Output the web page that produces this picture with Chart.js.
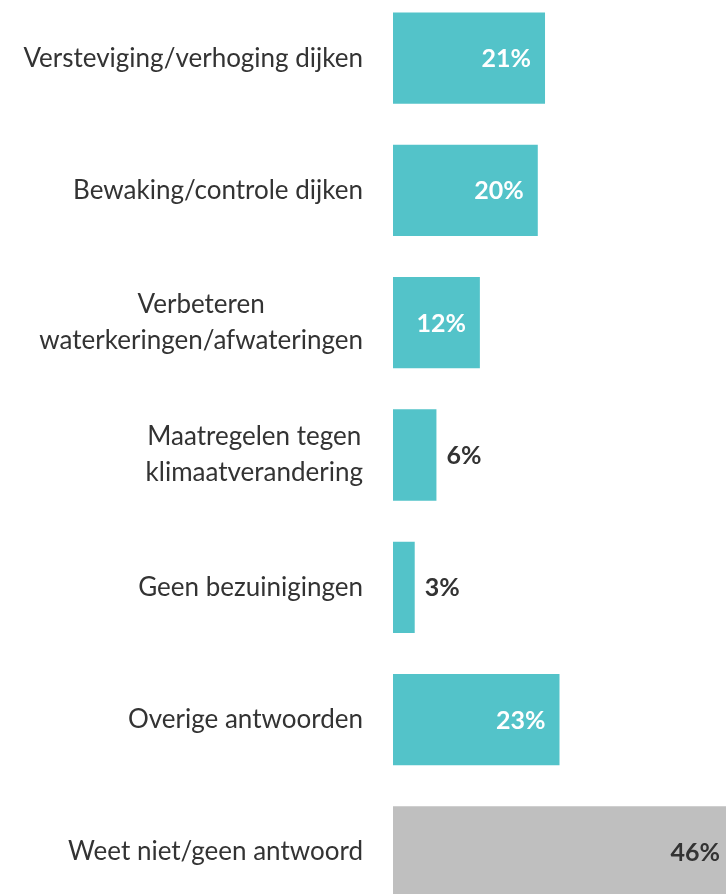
<!DOCTYPE html>
<html>
<head>
<meta charset="utf-8">
<script src="https://cdn.jsdelivr.net/npm/chart.js@4"></script>
<style>
  html, body { margin: 0; padding: 0; background: #fff; overflow: hidden; }
  #wrap { position: absolute; left: 0; top: -8px; width: 726px; height: 926px; }
</style>
</head>
<body>
<div id="wrap"><canvas id="maatregelenChart"></canvas></div>
<script>
const categories = [
  ["Versteviging/verhoging dijken"],
  ["Bewaking/controle dijken"],
  ["Verbeteren", "waterkeringen/afwateringen"],
  ["Maatregelen tegen", "klimaatverandering"],
  ["Geen bezuinigingen"],
  ["Overige antwoorden"],
  ["Weet niet/geen antwoord"]
];
const values = [21, 20, 12, 6, 3, 23, 46];

const TEAL = "#53c3c9";
const GREY = "#bfbfbf";
const TEXT = "#333333";
const FONT = "Lato, 'Open Sans', sans-serif";

// category names, right aligned next to the axis; wrapped lines centred on each other
const categoryLabels = {
  id: "categoryLabels",
  afterDraw(chart) {
    const ctx = chart.ctx;
    const yScale = chart.scales.y;
    const right = yScale.right - 30;
    const lineHeight = 36;
    ctx.save();
    ctx.font = "26px " + FONT;
    ctx.fillStyle = TEXT;
    ctx.textAlign = "center";
    ctx.textBaseline = "middle";
    categories.forEach((lines, i) => {
      const y = yScale.getPixelForValue(i);
      const w = Math.max(...lines.map(l => ctx.measureText(l).width));
      const cx = right - w / 2;
      const y0 = y - (lines.length - 1) * lineHeight / 2;
      lines.forEach((l, j) => ctx.fillText(l, cx, y0 + j * lineHeight));
    });
    ctx.restore();
  }
};

// percentage labels at the end of each bar
const valueLabels = {
  id: "valueLabels",
  afterDatasetsDraw(chart) {
    const ctx = chart.ctx;
    const meta = chart.getDatasetMeta(0);
    ctx.save();
    ctx.font = "bold 25px " + FONT;
    ctx.textBaseline = "middle";
    meta.data.forEach((bar, i) => {
      const v = values[i];
      const txt = v + "%";
      if (v >= 10) {
        ctx.textAlign = "right";
        ctx.fillStyle = i === values.length - 1 ? TEXT : "#ffffff";
        ctx.fillText(txt, bar.x - (i === values.length - 1 ? 6 : 14), bar.y + 1);
      } else {
        ctx.textAlign = "left";
        ctx.fillStyle = TEXT;
        ctx.fillText(txt, bar.x + 10, bar.y + 1);
      }
    });
    ctx.restore();
  }
};

new Chart(document.getElementById("maatregelenChart"), {
  type: "bar",
  data: {
    labels: categories.map(c => c.join(" ")),
    datasets: [{
      data: values,
      backgroundColor: ctx => ctx.dataIndex === values.length - 1 ? GREY : TEAL,
      borderWidth: 0,
      categoryPercentage: 1,
      barPercentage: 0.69
    }]
  },
  options: {
    indexAxis: "y",
    responsive: true,
    maintainAspectRatio: false,
    animation: false,
    layout: { padding: 0 },
    plugins: {
      legend: { display: false },
      tooltip: { enabled: false }
    },
    scales: {
      x: { display: false, min: 0, max: 46 },
      y: {
        ticks: { display: false },
        grid: { display: false },
        border: { display: false },
        afterFit(scale) { scale.width = 393; }
      }
    }
  },
  plugins: [categoryLabels, valueLabels]
});
</script>
</body>
</html>
